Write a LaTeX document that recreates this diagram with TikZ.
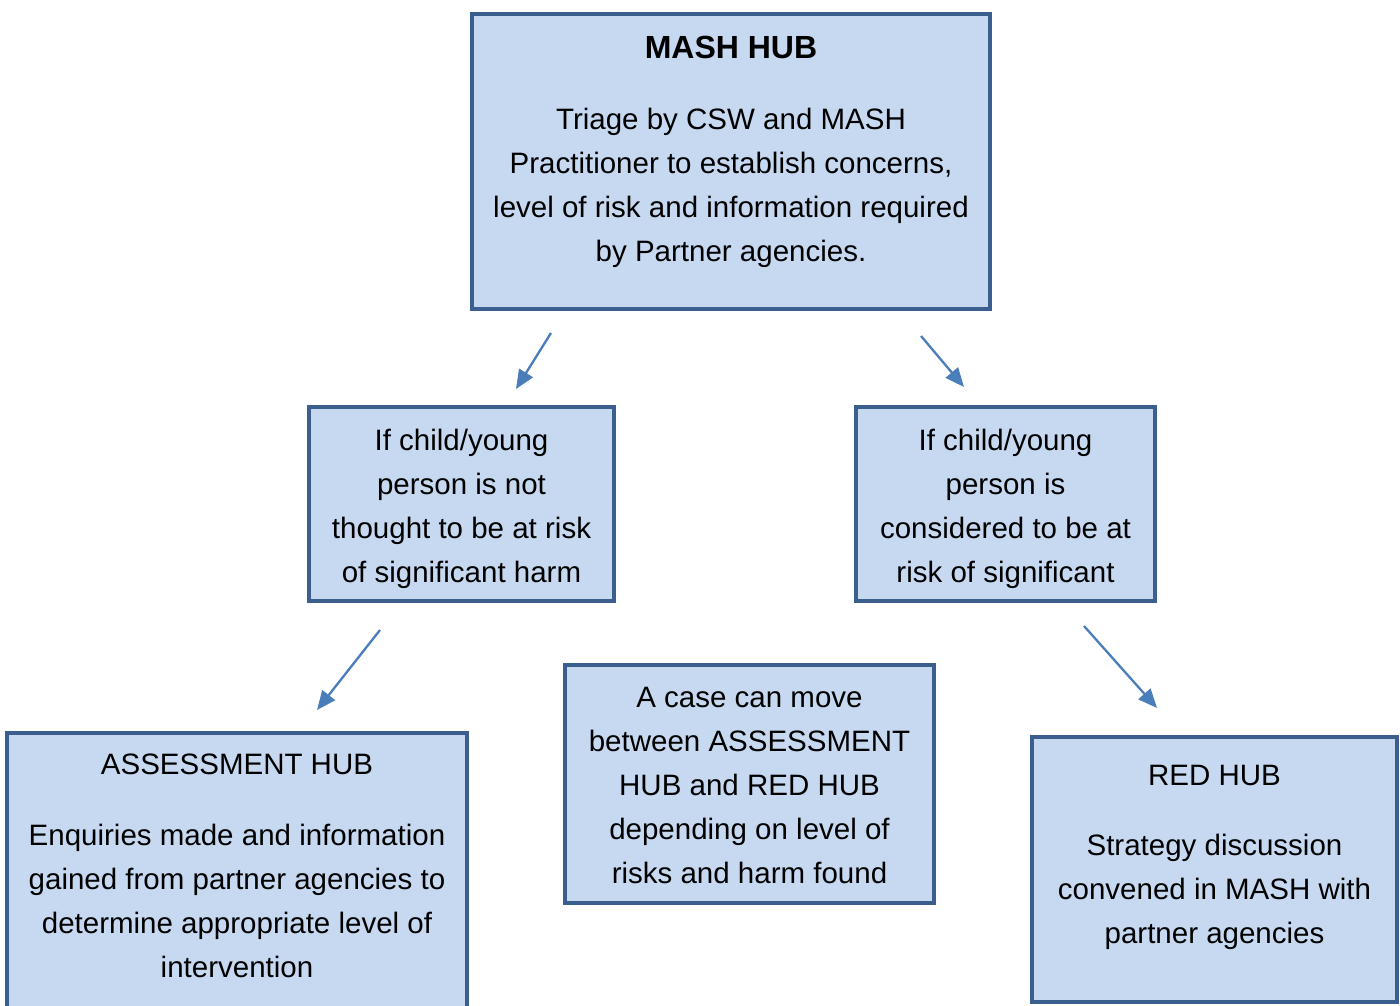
\documentclass[tikz,border=0pt]{standalone}
\usepackage{fontspec}
\setmainfont{Liberation Sans}
\usetikzlibrary{arrows.meta}
\definecolor{boxfill}{HTML}{C6D9F1}
\definecolor{boxline}{HTML}{3A5F8E}
\definecolor{arrowc}{HTML}{4A7EBB}
\begin{document}
\begin{tikzpicture}[x=1pt,y=-1pt,
  hubbox/.style={draw=boxline,fill=boxfill,line width=4pt,rectangle,inner sep=0pt,outer sep=0pt},
  boxtext/.style={anchor=base,align=center,inner sep=0pt,font=\fontsize{29.5}{44}\selectfont},
  flowarrow/.style={draw=arrowc,line width=2.3pt,-{Triangle[length=19pt,width=16pt]}}]
\useasboundingbox[fill=white] (0,0) rectangle (1400,1006);
\begin{scope}
\clip (0,0) rectangle (1400,1006);
% boxes
\node[hubbox,minimum width=518pt,minimum height=295pt] (mash) at (731,161.5) {};
\node[hubbox,minimum width=305pt,minimum height=194pt] (notrisk) at (461.5,504) {};
\node[hubbox,minimum width=299pt,minimum height=194pt] (risk) at (1005.5,504) {};
\node[hubbox,minimum width=369pt,minimum height=238pt] (move) at (749.5,784) {};
\node[hubbox,minimum width=460pt,minimum height=297pt] (assess) at (237,881.5) {};
\node[hubbox,minimum width=365pt,minimum height=265pt] (red) at (1214.5,869.5) {};
\end{scope}
% texts (anchor base = baseline of last line)
\node[boxtext] (mashtext) at (731,261) {{\fontsize{32}{44}\selectfont\bfseries MASH HUB}\\[27pt]Triage by CSW and MASH\\Practitioner to establish concerns,\\level of risk and information required\\by Partner agencies.};
\node[boxtext] (notrisktext) at (461.5,582) {If child/young\\person is not\\thought to be at risk\\of significant harm};
\node[boxtext] (risktext) at (1005.5,582) {If child/young\\person is\\considered to be at\\risk of significant};
\node[boxtext] (movetext) at (749.5,883) {A case can move\\between ASSESSMENT\\HUB and RED HUB\\depending on level of\\risks and harm found};
\node[boxtext] (assesstext) at (237,977) {ASSESSMENT HUB\\[27pt]Enquiries made and information\\gained from partner agencies to\\determine appropriate level of\\intervention};
\node[boxtext] (redtext) at (1214.5,943) {RED HUB\\[26pt]Strategy discussion\\convened in MASH with\\partner agencies};
% arrows
\coordinate (a1s) at (551,333); \coordinate (a1e) at (516,389);
\coordinate (a2s) at (921,336); \coordinate (a2e) at (964,387);
\coordinate (a3s) at (380,630); \coordinate (a3e) at (317,710);
\coordinate (a4s) at (1084,626); \coordinate (a4e) at (1157,708);
\draw[flowarrow] (a1s) -- (a1e);
\draw[flowarrow] (a2s) -- (a2e);
\draw[flowarrow] (a3s) -- (a3e);
\draw[flowarrow] (a4s) -- (a4e);
\end{tikzpicture}
\end{document}
